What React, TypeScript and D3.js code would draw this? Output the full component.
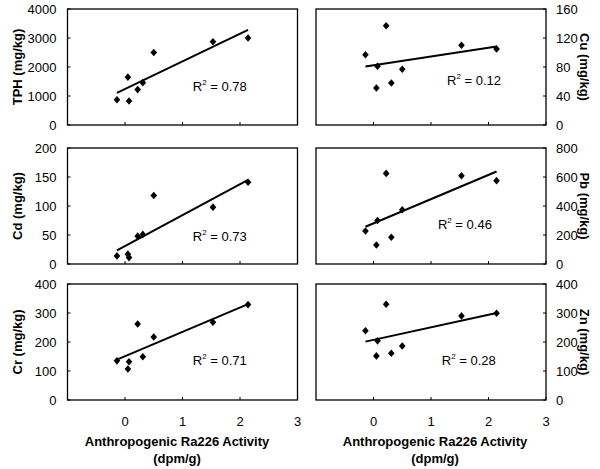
import * as d3 from 'd3';

// anthropogenic Ra226 activity (dpm/g), shared by all six panels
const activity = [-0.14, 0.05, 0.07, 0.22, 0.31, 0.5, 1.53, 2.14];

const tph = [870, 1650, 830, 1220, 1460, 2500, 2870, 3000];
const cu = [97, 51, 81, 137, 58, 77, 110, 105];
const cd = [14, 17, 11, 48, 51, 118, 98, 141];
const pb = [228, 131, 300, 625, 184, 374, 609, 575];
const cr = [135, 107, 132, 262, 149, 217, 268, 329];
const zn = [239, 152, 204, 330, 161, 186, 290, 299];

const xTicks = [0, 1, 2, 3];
const names = ['TPH', 'Cu', 'Cd', 'Pb', 'Cr', 'Zn'];
const yMax = [4000, 160, 200, 800, 400, 400];
const yStep = [1000, 40, 50, 200, 100, 100];
const r2 = ['0.78', '0.12', '0.73', '0.46', '0.71', '0.28'];
const series = [tph, cu, cd, pb, cr, zn];

const W = 600;
const H = 469;
const cols = [[67.5, 297.5], [316, 546]];
const rows = [[9, 125], [148, 264], [284, 400]];
// where the R² note sits inside each box (fraction of width / height)
const notePos = [[0.545, 0.67], [0.57, 0.62], [0.545, 0.76], [0.53, 0.66], [0.545, 0.66], [0.547, 0.66]];

const diamond = 'M0,-3.8L3.3,0L0,3.8L-3.3,0Z';

function fit(xs: number[], ys: number[]) {
  const mx = d3.mean(xs)!;
  const my = d3.mean(ys)!;
  let sxy = 0, sxx = 0;
  xs.forEach((x, i) => {
    sxy += (x - mx) * (ys[i] - my);
    sxx += (x - mx) * (x - mx);
  });
  const b = sxy / sxx;
  return { a: my - b * mx, b };
}

function Panel({ i }: { i: number }) {
  const col = i % 2;
  const row = Math.floor(i / 2);
  const [x0, x1] = cols[col];
  const [y0, y1] = rows[row];
  const x = d3.scaleLinear().domain([-1, 3]).range([x0, x1]);
  const y = d3.scaleLinear().domain([0, yMax[i]]).range([y1, y0]);
  const ys = series[i];
  const yt = d3.range(0, yMax[i] + 1, yStep[i]);
  const { a, b } = fit(activity, ys);
  const ext = d3.extent(activity) as [number, number];
  const line = d3.line<number>().x(v => x(v)).y(v => y(a + b * v));
  const right = col === 1;
  const tickX = right ? x1 : x0;
  const dir = right ? -1 : 1;
  const midY = (y0 + y1) / 2;
  const labX = right ? 585 : 17;
  return (
    <g>
      <rect x={x0} y={y0} width={x1 - x0} height={y1 - y0} fill="none" stroke="#000" strokeWidth={1.3} />
      {yt.map(t => (
        <g key={t}>
          <line x1={tickX} x2={tickX + dir * 3} y1={y(t)} y2={y(t)} stroke="#000" strokeWidth={1} />
          <text x={right ? x1 + 10 : x0 - 11} y={y(t)} dy="0.35em" textAnchor={right ? 'start' : 'end'} fontSize={13}>{t}</text>
        </g>
      ))}
      {xTicks.map(t => (
        <line key={t} x1={x(t)} x2={x(t)} y1={y1} y2={y1 - 3} stroke="#000" strokeWidth={1} />
      ))}
      <path d={line(ext) || ''} stroke="#000" strokeWidth={2} fill="none" />
      {ys.map((v, k) => (
        <path key={k} d={diamond} transform={`translate(${x(activity[k])},${y(v)})`} fill="#000" />
      ))}
      <text x={x0 + (x1 - x0) * notePos[i][0]} y={y0 + (y1 - y0) * notePos[i][1]} dy="0.35em" fontSize={13}>
        R<tspan fontSize={8} dy="-6">2</tspan><tspan dy="6"> = {r2[i]}</tspan>
      </text>
      <text transform={`translate(${labX},${midY}) rotate(${right ? 90 : -90})`} textAnchor="middle" dy="0.35em" fontSize={13} fontWeight="bold">
        {names[i]} (mg/kg)
      </text>
      {row === 2 && (
        <g>
          {xTicks.map(t => (
            <text key={t} x={x(t)} y={426} textAnchor="middle" fontSize={13}>{t}</text>
          ))}
          <text x={col === 0 ? 177 : 435} y={446} textAnchor="middle" fontSize={13} fontWeight="bold">Anthropogenic Ra226 Activity</text>
          <text x={col === 0 ? 177 : 435} y={463} textAnchor="middle" fontSize={13} fontWeight="bold">(dpm/g)</text>
        </g>
      )}
    </g>
  );
}

export default function App() {
  return (
    <svg width={W} height={H} style={{ position: 'absolute', left: 0, top: 0, background: '#fff' }} fontFamily="'Liberation Sans', Arial, sans-serif">
      {names.map((_, i) => <Panel key={i} i={i} />)}
    </svg>
  );
}
